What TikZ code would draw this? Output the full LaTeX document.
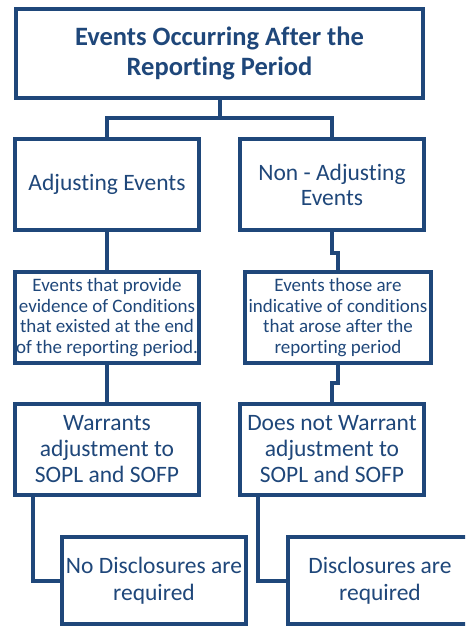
\documentclass[tikz,border=0pt]{standalone}
\usepackage{fontspec}
\setmainfont{Carlito}[Ligatures=NoCommon]
\usepackage{tikz}
\usetikzlibrary{positioning}
\definecolor{boitebleu}{RGB}{31,71,122}

\begin{document}
\begin{tikzpicture}[x=1pt, y=-1pt,
    every node/.style={draw=boitebleu, line width=4pt, text=boitebleu, fill=white, align=center,
      minimum width=184pt, minimum height=91pt, inner sep=1pt},
    lien/.style={draw=boitebleu, line width=4pt}]
    \useasboundingbox (0,0) rectangle (465,628);
    \clip (0,0) rectangle (465,628);

    % Titre
    \node[minimum width=407pt, minimum height=89pt, font=\fontsize{26.5}{30}\selectfont\bfseries] (titre) at (219.5,53.5) {Events Occurring After the\\Reporting Period};

    % Niveau 1
    \node[font=\fontsize{23.5}{25}\selectfont] (adj) at (107,184.5) {Adjusting Events};
    \node[font=\fontsize{23.5}{25}\selectfont] (nadj) at (332,184.5) {Non - Adjusting\\Events};

    % Niveau 2
    \node[font=\fontsize{19}{20.5}\selectfont] (adjcond) at (107,317.5) {Events that provide\\evidence of Conditions\\that existed at the end\\of the reporting period.};
    \node[minimum width=186pt, font=\fontsize{19}{20.5}\selectfont] (nadjcond) at (338,317.5) {Events those are\\indicative of conditions\\that arose after the\\reporting period};

    % Niveau 3
    \node[font=\fontsize{23.5}{26}\selectfont] (war) at (107,449.5) {Warrants\\adjustment to\\SOPL and SOFP};
    \node[font=\fontsize{23.5}{26}\selectfont] (nwar) at (332,449.5) {Does not Warrant\\adjustment to\\SOPL and SOFP};

    % Niveau 4
    \node[minimum height=87pt, font=\fontsize{23.5}{27}\selectfont] (nodisc) at (154,580.5) {No Disclosures are\\required};
    \node[minimum height=87pt, font=\fontsize{23.5}{27}\selectfont] (disc) at (380,580.5) {Disclosures are\\required};

    % Liens
    \coordinate (split) at (219.5,118);
    \draw[lien] (titre.south) -- (split);
    \draw[lien] (adj.north) |- (split) -| (nadj.north);
    \draw[lien] (adj.south) -- (adjcond.north);
    \draw[lien] (nadj.south) -- ++(0,21) -| (nadjcond.north);
    \draw[lien] (adjcond.south) -- (war.north);
    \draw[lien] (nadjcond.south) -- ++(0,18) -| (nwar.north);
    \draw[lien] ([xshift=20pt]war.south west) |- (nodisc.west);
    \draw[lien] ([xshift=20pt]nwar.south west) |- (disc.west);
\end{tikzpicture}
\end{document}
